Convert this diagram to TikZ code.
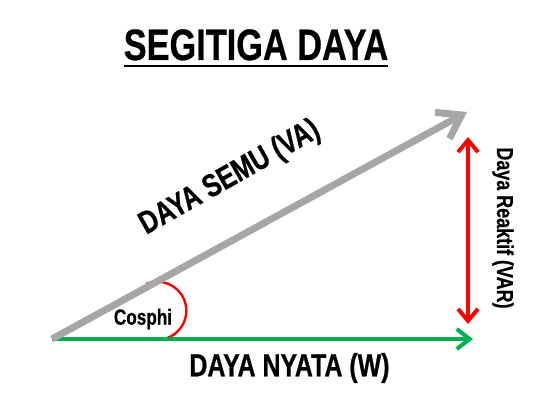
\documentclass[tikz,border=0pt]{standalone}
\usepackage{fontspec}
\usetikzlibrary{arrows.meta}
\newfontfamily\nb[FakeStretch=0.78,FakeBold=0.6]{Liberation Sans}
\definecolor{vgray}{RGB}{166,166,166}
\definecolor{pgreen}{RGB}{0,176,80}
\definecolor{qred}{RGB}{255,0,0}
\tikzset{
  lbl/.style={font=\nb\bfseries, inner sep=0pt, text=black},
  sarrow/.style={draw=vgray, line width=7pt, -{Straight Barb[length=22pt,width=30pt]}},
  parrow/.style={draw=pgreen, line width=4pt, -{Straight Barb[length=13pt,width=20pt]}},
  qarrow/.style={draw=qred, line width=4pt, {Straight Barb[length=12pt,width=20pt]}-{Straight Barb[length=12pt,width=20pt]}},
  anglearc/.style={draw=qred, line width=2.4pt}
}
\begin{document}
\begin{tikzpicture}[x=1pt,y=1pt]
\path[use as bounding box] (0,0) rectangle (550,400);
% title
\node[lbl, font=\nb\bfseries\fontsize{44}{48}\selectfont, anchor=base] (title) at (256,340) {SEGITIGA DAYA};
\draw[line width=2.5pt] (title.base west |- 0,334) coordinate (ul1) -- (title.base east |- 0,334) coordinate (ul2);
% points
\coordinate (O) at (52,61);
\coordinate (P) at (473,61);
\coordinate (S) at (467,288);
\coordinate (Qb) at (468,76);
\coordinate (Qt) at (468,263);
\coordinate (A) at (146,116);
% angle arc
\draw[anglearc] (A) arc[start angle=113, end angle=-91, radius=29];
% arrows
\draw[parrow] (O) -- (P);
\draw[sarrow] (O) -- (S);
\draw[qarrow] (Qb) -- (Qt);
% labels
\node[lbl, font=\nb\bfseries\fontsize{22}{24}\selectfont] (cos) at (143,81) {Cosphi};
\node[lbl, font=\nb\bfseries\fontsize{32}{36}\selectfont] (nyata) at (289.5,32) {DAYA NYATA (W)};
\node[lbl, font=\nb\bfseries\fontsize{32}{36}\selectfont, rotate=29.5] (semu) at (230,222) {DAYA SEMU (VA)};
\node[lbl, font=\nb\bfseries\fontsize{23}{26}\selectfont, rotate=-90] (reak) at (503,172) {Daya Reaktif (VAR)};
\end{tikzpicture}
\end{document}
